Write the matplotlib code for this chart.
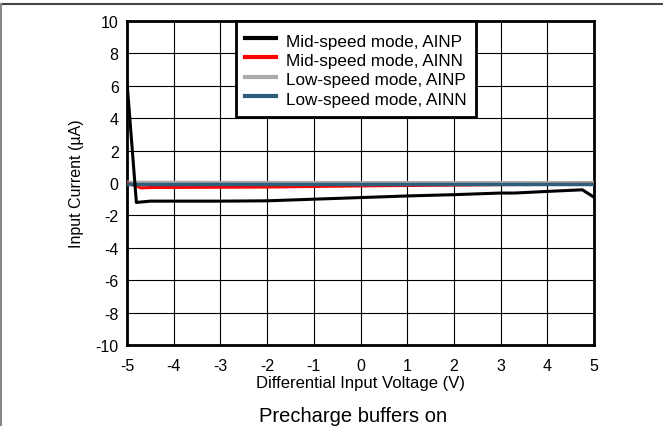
import numpy as np
import matplotlib.pyplot as plt
from matplotlib.lines import Line2D

plt.rcParams['font.family'] = ['Liberation Sans', 'DejaVu Sans']
plt.rcParams['axes.unicode_minus'] = False

# Mid-speed mode, AINP
mid_p_v = [-5, -4.8, -4.5, -3, -2, -1, 0, 1, 2, 3, 3.3, 4, 4.75, 5]
mid_p_i = [6.2, -1.2, -1.12, -1.12, -1.1, -1.0, -0.9, -0.8, -0.72, -0.62, -0.62, -0.52, -0.42, -0.88]

# Mid-speed mode, AINN
mid_n_v = [-5, -4.7, -4.5, -2, 0, 2, 3, 5]
mid_n_i = [0.0, -0.3, -0.28, -0.25, -0.18, -0.13, -0.1, -0.08]

# Low-speed mode, AINP
low_p_v = [-5, -2, 0, 2, 5]
low_p_i = [0.05, 0.04, 0.03, 0.03, 0.03]

# Low-speed mode, AINN
low_n_v = [-5, -2, 0, 2, 5]
low_n_i = [-0.05, -0.05, -0.05, -0.05, -0.05]

labels = ['Mid-speed mode, AINP', 'Mid-speed mode, AINN',
          'Low-speed mode, AINP', 'Low-speed mode, AINN']
colors = ['#000000', '#ff0000', '#aaaaaa', '#2e5f7a']

fig = plt.figure(figsize=(6.63, 4.27), dpi=100)
ax = fig.add_axes([0.1916, 0.1897, 0.7044, 0.7588])

ax.plot(mid_p_v, mid_p_i, color=colors[0], lw=2.2, zorder=5)
ax.plot(mid_n_v, mid_n_i, color=colors[1], lw=2.2, zorder=4)
ax.plot(low_p_v, low_p_i, color=colors[2], lw=2.2, zorder=3)
ax.plot(low_n_v, low_n_i, color=colors[3], lw=2.5, zorder=4)

ax.set_xlim(-5, 5)
ax.set_ylim(-10, 10)
ax.set_xticks(np.arange(-5, 6, 1))
ax.set_yticks(np.arange(-10, 11, 2))
ax.grid(True, color='black', lw=0.8)
ax.tick_params(length=0, labelsize=11.5)
ax.tick_params(axis='x', pad=9.5)
ax.tick_params(axis='y', pad=6)
for s in ax.spines.values():
    s.set_linewidth(2)

ax.set_xlabel('Differential Input Voltage (V)', fontsize=12, labelpad=1)
ax.set_ylabel('Input Current (\u00b5A)', fontsize=11.5, labelpad=8)

handles = [Line2D([], [], color=c, lw=3) for c in colors]
leg = ax.legend(handles, labels, loc='upper center', bbox_to_anchor=(0.49, 1.0),
                borderaxespad=0, fontsize=12.3, frameon=True, fancybox=False,
                framealpha=1, handlelength=1.8, handleheight=1.36,
                handletextpad=0.6, labelspacing=0.0, borderpad=0.55)
leg.get_frame().set_edgecolor('black')
leg.get_frame().set_linewidth(2)
leg.set_zorder(10)

fig.text(0.532, 0.024, 'Precharge buffers on', ha='center', va='center', fontsize=14.5)

# figure frame lines
fig.add_artist(Line2D([0, 1], [1 - 5 / 427] * 2, color='#444444', lw=1.5))
fig.add_artist(Line2D([0.5 / 663] * 2, [0, 1 - 5 / 427], color='#888888', lw=1.5))

fig.savefig('out.png', dpi=100)
